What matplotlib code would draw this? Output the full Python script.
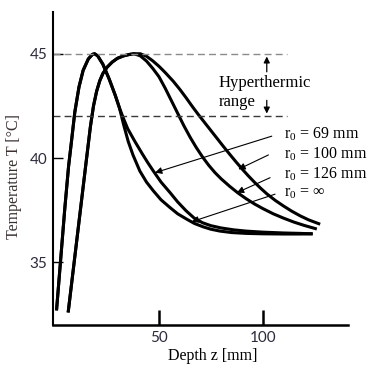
import numpy as np
import matplotlib.pyplot as plt

plt.rcParams['font.family'] = ['Liberation Serif', 'DejaVu Serif']
plt.rcParams['mathtext.fontset'] = 'custom'
plt.rcParams['mathtext.rm'] = 'Liberation Serif'

# early-peak pair (shared rise, split near 31 mm)
z_low_in = [0.7, 2.5, 4.7, 6.5, 7.9, 9.5, 11.5, 13.5, 16, 18, 19, 20.5, 23, 26, 29, 31, 33, 35.2, 37.5,
            40.8, 44, 47.3, 51, 55.3, 59, 63.4, 67, 71.4, 75, 79.4, 85, 92, 100, 110, 118, 124]
t_low_in = [32.7, 34.9, 37.6, 39.6, 40.8, 42.2, 43.4, 44.2, 44.75, 44.97, 45.0, 44.9, 44.5, 43.8, 43.0,
            42.4, 41.6, 40.8, 40.15, 39.38, 38.85, 38.43, 38.0, 37.63, 37.33, 37.07, 36.87, 36.7, 36.59,
            36.5, 36.43, 36.39, 36.37, 36.36, 36.36, 36.37]
z_low_out = [0.7, 2.5, 4.7, 6.5, 7.9, 9.5, 11.5, 13.5, 16, 18, 19, 20.5, 23, 26, 29, 31, 33, 35, 38.4,
             42, 44.5, 47.3, 51, 55.3, 59, 63, 67, 71, 75, 80, 86, 92, 100, 110, 118, 124]
t_low_out = [32.7, 34.9, 37.6, 39.6, 40.8, 42.2, 43.4, 44.2, 44.75, 44.97, 45.0, 44.9, 44.5, 43.8, 43.0,
             42.4, 41.88, 41.4, 40.8, 40.2, 39.8, 39.38, 38.85, 38.35, 37.9, 37.48, 37.12, 36.9, 36.76,
             36.65, 36.56, 36.5, 36.45, 36.41, 36.39, 36.37]

# late-peak pair
z_up_in = [6.3, 9, 12, 15, 17, 18.5, 20, 21.5, 23, 25, 27.5, 30, 33, 36, 38, 41, 44, 47, 50, 53, 56,
           59, 62, 65, 68, 71, 74, 77, 80, 84, 88, 92, 96, 100, 105, 110, 115, 120, 126]
t_up_in = [32.6, 34.85, 37.35, 39.85, 41.5, 42.5, 43.2, 43.7, 44.05, 44.35, 44.6, 44.78, 44.9, 44.97,
           45.0, 44.9, 44.65, 44.3, 43.9, 43.35, 42.75, 42.15, 41.55, 41.0, 40.5, 40.05, 39.65, 39.3,
           39.0, 38.65, 38.33, 38.05, 37.8, 37.58, 37.33, 37.12, 36.93, 36.77, 36.6]
z_up_out = [6.3, 9, 12, 15, 17, 18.5, 20, 21.5, 23, 25, 27.5, 30, 33, 36, 38, 41, 44, 47, 50, 53, 56.9,
            60, 63, 66, 69, 72, 75, 78, 81, 84, 87, 90, 93, 96, 99, 102, 106, 110, 114, 118, 122, 127.6]
t_up_out = [32.6, 34.85, 37.35, 39.85, 41.5, 42.5, 43.2, 43.7, 44.05, 44.35, 44.6, 44.78, 44.9, 44.97,
            45.0, 45.0, 44.88, 44.66, 44.4, 44.1, 43.68, 43.3, 42.9, 42.48, 42.08, 41.7, 41.32, 40.94,
            40.56, 40.19, 39.83, 39.48, 39.15, 38.84, 38.55, 38.28, 37.97, 37.7, 37.45, 37.23, 37.04,
            36.83]

labels = [r'r$_0$ = 69 mm', r'r$_0$ = 100 mm', r'r$_0$ = 126 mm', r'r$_0$ = ∞']
label_t = [41.16, 40.21, 39.25, 38.34]
arrow_from = [(104.3, 41.05), (102.7, 40.15), (103.5, 39.06), (105.9, 38.27)]
arrow_to = [(48.1, 39.3), (88.2, 39.46), (87.5, 38.34), (65.8, 36.95)]

fig = plt.figure(figsize=(3.69, 3.65), dpi=100)
ax = fig.add_axes([0.1436, 0.1096, 0.7995, 0.8575])

for z, t in [(z_low_in, t_low_in), (z_low_out, t_low_out), (z_up_in, t_up_in), (z_up_out, t_up_out)]:
    ax.plot(z, t, color='black', lw=2.2, solid_capstyle='butt', solid_joinstyle='round')

ax.hlines(45, -1, 111.6, colors='#8a8a8a', lw=1.0, linestyles=(0, (5, 3)))
ax.hlines(42, -1, 111.6, colors='#3a3a3a', lw=1.0, linestyles=(0, (5, 3)))

ax.text(78.6, 43.6, 'Hyperthermic', fontsize=12, va='center', ha='left')
ax.text(78.6, 42.68, 'range', fontsize=12, va='center', ha='left')
ax.annotate('', xy=(101.9, 45), xytext=(101.9, 44.0),
            arrowprops=dict(arrowstyle='-|>', lw=0.9, color='black', mutation_scale=9))
ax.annotate('', xy=(101.9, 42), xytext=(101.9, 42.9),
            arrowprops=dict(arrowstyle='-|>', lw=0.9, color='black', mutation_scale=9))

for lab, ty, a0, a1 in zip(labels, label_t, arrow_from, arrow_to):
    ax.text(110, ty, lab, fontsize=11.5, va='center', ha='left')
    ax.annotate('', xy=a1, xytext=a0,
                arrowprops=dict(arrowstyle='-|>', lw=0.8, color='black', mutation_scale=10,
                                shrinkA=0, shrinkB=0))

ax.set_xlim(-1, 141)
ax.set_ylim(32, 47)
ax.spines['top'].set_visible(False)
ax.spines['right'].set_visible(False)
ax.spines['left'].set_linewidth(1.5)
ax.spines['bottom'].set_linewidth(1.8)

ax.set_xticks([50, 100])
ax.set_yticks([35, 40, 45])
ax.tick_params(axis='x', direction='in', length=11, width=1.8, pad=4.5, labelsize=11,
               labelcolor='#2b2b3b')
ax.tick_params(axis='y', direction='in', length=7, width=1.0, pad=4, labelsize=11,
               labelcolor='#2b2b3b')
for lab in ax.get_xticklabels() + ax.get_yticklabels():
    lab.set_family(['Lato', 'DejaVu Sans'])

ax.set_xlabel('Depth z [mm]', fontsize=11.5)
ax.xaxis.set_label_coords(0.543, -0.075)
ax.set_ylabel('Temperature T [°C]', fontsize=11.5, color='#3a3030')
ax.yaxis.set_label_coords(-0.105, 0.474)

fig.savefig('out.png', dpi=100)
